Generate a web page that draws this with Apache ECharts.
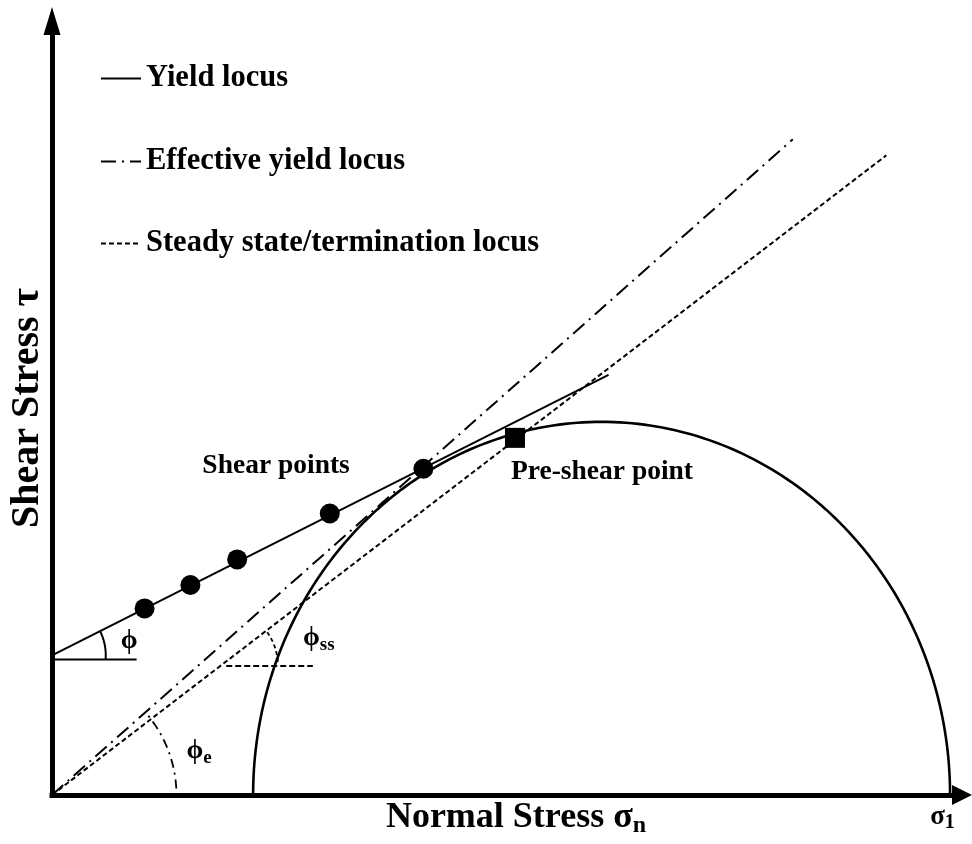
<!DOCTYPE html>
<html>
<head>
<meta charset="utf-8">
<script src="https://cdn.jsdelivr.net/npm/echarts@6/dist/echarts.min.js"></script>
<style>
  html, body { margin: 0; padding: 0; background: #fff; }
  #chart { width: 972px; height: 844px; }
</style>
</head>
<body>
<div id="chart"></div>
<script>
// stresses in arbitrary units (schematic Mohr diagram)
const sigma3 = 202
const sigma1 = 902

const shearSigma = [93, 139, 186, 279, 373]
const shearTau = [175, 197, 221, 264, 306]
const preShearSigma = [465]
const preShearTau = [335]

const yieldSigma = [0, 559]
const yieldTau = [131, 394]
const effectiveSigma = [0, 744]
const effectiveTau = [0, 615]
const steadySigma = [0, 838]
const steadyTau = [0, 600]

const legendNames = ['Yield locus', 'Effective yield locus', 'Steady state/termination locus']

const xMax = 914
const yMax = 726
const gridW = 914
const gridH = 774
// on screen one tau unit is a bit taller than one sigma unit
const K = (gridH / yMax) / (gridW / xMax)

const font = '"Liberation Serif", "Times New Roman", serif'
const zip = (a, b) => a.map((v, i) => [v, b[i]])
const slopeDeg = (s, t) => Math.atan((t[1] - t[0]) / (s[1] - s[0]) * K) * 180 / Math.PI

// circular arc in screen space around (s0, t0), radius r in px
const arc = (s0, t0, r, a0, a1) => {
  const pts = []
  for (let i = 0; i <= 40; i++) {
    const a = (a0 + (a1 - a0) * i / 40) * Math.PI / 180
    pts.push([s0 + r * Math.cos(a), t0 + r * Math.sin(a) / K])
  }
  return pts
}

const centre = (sigma1 + sigma3) / 2
const radius = (sigma1 - sigma3) / 2
const mohr = []
for (let i = 0; i <= 180; i++) {
  const a = Math.PI - i * Math.PI / 180
  mohr.push([centre + radius * Math.cos(a), radius * Math.sin(a)])
}

const phi = slopeDeg(yieldSigma, yieldTau)
const phiE = slopeDeg(effectiveSigma, effectiveTau)
const phiSS = slopeDeg(steadySigma, steadyTau)
const steadyK = steadyTau[1] / steadySigma[1]
const ssRefTau = 121

const line = (name, data, width, type) => ({
  name, type: 'line', data, symbol: 'none', showSymbol: false, silent: true,
  lineStyle: { color: '#000', width, type: type || 'solid' },
  itemStyle: { color: '#000' },
})

// annotation anchors: left edge / vertical middle of each text
const notes = [
  { value: [151, 309], text: 'Shear points' },
  { value: [461, 303], text: 'Pre-shear point' },
  { value: [69, 144], text: '{g|ϕ}' },
  { value: [252, 147], text: '{g|ϕ}{s|ss}' },
  { value: [135, 41], text: '{g|ϕ}{s|e}' },
  { value: [882, -21], text: '{m|σ}{n|1}' },
]

const chart = echarts.init(document.getElementById('chart'))

const legendAt = (name, top) => ({
  data: [name], left: 100, top, padding: 0, orient: 'vertical',
  itemWidth: 40, itemHeight: 14, itemGap: 0, selectedMode: false,
  itemStyle: { opacity: 0 },
  textStyle: { fontFamily: font, fontWeight: 'bold', fontSize: 30.5, color: '#000', lineHeight: 30 },
})

chart.setOption({
  animation: false,
  backgroundColor: '#fff',
  legend: [
    legendAt(legendNames[0], 63),
    legendAt(legendNames[1], 146),
    legendAt(legendNames[2], 228),
  ],
  grid: { left: 48, right: 10, top: 21, bottom: 49 },
  xAxis: {
    type: 'value', min: 0, max: xMax,
    name: '{a|Normal Stress σ}{s|n}',
    nameLocation: 'middle', nameGap: 3,
    nameTextStyle: {
      padding: [0, 0, 0, 18],
      rich: {
        a: { fontFamily: font, fontWeight: 'bold', fontSize: 36, color: '#000', lineHeight: 40 },
        s: { fontFamily: font, fontWeight: 'bold', fontSize: 24, color: '#000', lineHeight: 22, verticalAlign: 'bottom' },
      },
    },
    axisLine: {
      onZero: false,
      symbol: ['none', 'triangle'], symbolSize: [20, 20],
      lineStyle: { color: '#000', width: 5, cap: 'square' },
    },
    axisTick: { show: false }, axisLabel: { show: false }, splitLine: { show: false },
  },
  yAxis: {
    type: 'value', min: 0, max: yMax,
    name: 'Shear Stress τ',
    nameLocation: 'middle', nameGap: 4, nameRotate: 90,
    nameTextStyle: { fontFamily: font, fontWeight: 'bold', fontSize: 40, color: '#000' },
    axisLine: {
      onZero: false,
      symbol: ['none', 'triangle'], symbolSize: [17, 28],
      lineStyle: { color: '#000', width: 5, cap: 'square' },
    },
    axisTick: { show: false }, axisLabel: { show: false }, splitLine: { show: false },
  },
  series: [
    line('Mohr circle', mohr, 2.6),
    line(legendNames[0], zip(yieldSigma, yieldTau), 2),
    line(legendNames[1], zip(effectiveSigma, effectiveTau), 2, [15, 6, 2, 6]),
    line(legendNames[2], zip(steadySigma, steadyTau), 2, [5, 3]),
    // angle markers
    line('phi ref', [[0, 127], [85, 127]], 2),
    line('phi arc', arc(0, yieldTau[0], 54, -4, phi), 2),
    line('phi ss ref', [[175, ssRefTau], [262, ssRefTau]], 2, [6, 3]),
    line('phi ss arc', arc(ssRefTau / steadyK, ssRefTau, 58, 4, phiSS), 1.8, [4, 3]),
    line('phi e arc', arc(0, 0, 125, 3, phiE), 1.8, [9, 5, 2, 5]),
    {
      name: 'Shear points', type: 'scatter', silent: true,
      data: zip(shearSigma, shearTau), symbol: 'circle', symbolSize: 20,
      itemStyle: { color: '#000', opacity: 1 }, z: 5,
    },
    {
      name: 'Pre-shear point', type: 'scatter', silent: true,
      data: zip(preShearSigma, preShearTau), symbol: 'rect', symbolSize: 20,
      itemStyle: { color: '#000', opacity: 1 }, z: 5,
    },
    {
      name: 'notes', type: 'scatter', silent: true, clip: false,
      symbolSize: 0,
      itemStyle: { opacity: 1 },
      data: notes.map(n => ({ value: n.value, label: { formatter: n.text } })),
      label: {
        show: true, position: 'right', distance: 0,
        fontFamily: font, fontWeight: 'bold', fontSize: 27.5, color: '#000',
        rich: {
          g: { fontFamily: font, fontWeight: 'bold', fontSize: 27, color: '#000', lineHeight: 32 },
          s: { fontFamily: font, fontWeight: 'bold', fontSize: 19, color: '#000', lineHeight: 19, verticalAlign: 'bottom' },
          m: { fontFamily: font, fontWeight: 'bold', fontSize: 27, color: '#000', lineHeight: 30 },
          n: { fontFamily: font, fontWeight: 'bold', fontSize: 20, color: '#000', lineHeight: 20, verticalAlign: 'bottom' },
        },
      },
      z: 6,
    },
  ],
})
</script>
</body>
</html>
